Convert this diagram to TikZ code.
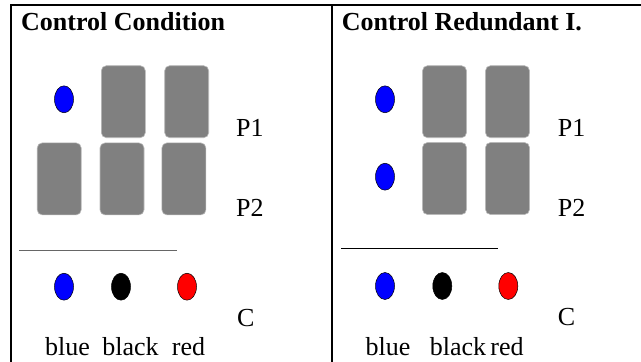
\documentclass[tikz,border=0pt]{standalone}
\usepackage{fontspec}
\setmainfont{Liberation Serif}
\usetikzlibrary{shapes.geometric}

\begin{document}
\begin{tikzpicture}[x=1pt,y=-1pt,auto=center,
		lbl/.style={inner sep=0pt,font=\fontsize{26}{30}\selectfont},
		ttl/.style={inner sep=0pt,anchor=base west,font=\fontsize{26}{30}\selectfont\bfseries},
		card/.style={rectangle,rounded corners=5pt,fill=gray,draw=gray!55,line width=0.6pt,minimum width=44pt,minimum height=72pt,inner sep=0pt},
		dot/.style={ellipse,draw=black,line width=0.5pt,minimum width=19pt,minimum height=27pt,inner sep=0pt}]
			%\draw [help lines] (0,0) grid (641,362);
			\useasboundingbox (0,0) rectangle (641,362);
			\draw[line width=2pt] (11,362) -- (11,5) -- (641,5);
			\draw[line width=2pt] (332,5) -- (332,362);
			% control condition
			\node[ttl] (ttlA) at (21,30) {Control Condition};
			\node[dot,fill=blue] (tgtA) at (64,99.3) {};
			\node[card] (aA) at (123.3,101.7) {};
			\node[card] (bA) at (186.7,101.7) {};
			\node[card] (cA) at (59.2,178.9) {};
			\node[card] (dA) at (122,178.9) {};
			\node[card] (eA) at (183.9,178.9) {};
			\node[lbl,anchor=base west] (pA) at (236,136.7) {P1};
			\node[lbl,anchor=base west] (qA) at (236,216) {P2};
			\draw[gray!80!black,line width=0.8pt] (19,250.7) -- (177,250.7);
			\node[dot,fill=blue] (blueA) at (64,286.7) {};
			\node[dot,fill=black] (blackA) at (121,286.7) {};
			\node[dot,fill=red] (redA) at (187,286.7) {};
			\node[lbl,anchor=base west] (cmpA) at (237,326) {C};
			\node[lbl,anchor=base] (wblueA) at (67.5,355.5) {blue};
			\node[lbl,anchor=base] (wblackA) at (130.5,355.5) {black};
			\node[lbl,anchor=base] (wredA) at (188.5,355.5) {red};
			% control redundant
			\node[ttl] (ttlB) at (341.7,30) {Control Redundant I.};
			\node[dot,fill=blue] (tgtB) at (385,99.3) {};
			\node[dot,fill=blue] (tgtC) at (385,176.7) {};
			\node[card] (aB) at (444.5,101.7) {};
			\node[card] (bB) at (507.5,101.7) {};
			\node[card] (dB) at (444.5,178.5) {};
			\node[card] (eB) at (507.5,178.5) {};
			\node[lbl,anchor=base west] (pB) at (557.7,136.7) {P1};
			\node[lbl,anchor=base west] (qB) at (557.7,216) {P2};
			\draw[black,line width=0.9pt] (341,248.3) -- (498,248.3);
			\node[dot,fill=blue] (blueB) at (385,286) {};
			\node[dot,fill=black] (blackB) at (442.3,286) {};
			\node[dot,fill=red] (redB) at (508.3,286) {};
			\node[lbl,anchor=base west] (cmpB) at (557.7,325) {C};
			\node[lbl,anchor=base] (wblueB) at (388,355) {blue};
			\node[lbl,anchor=base] (wblackB) at (458,355) {black};
			\node[lbl,anchor=base] (wredB) at (507,355) {red};
		\end{tikzpicture}
\end{document}
